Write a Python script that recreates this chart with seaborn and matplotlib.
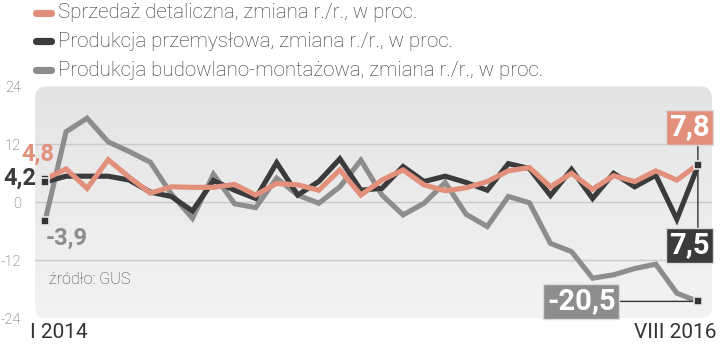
import numpy as np
import pandas as pd
import matplotlib
matplotlib.use("Agg")
import matplotlib.pyplot as plt
from matplotlib.patches import FancyBboxPatch
from matplotlib.lines import Line2D
import seaborn as sns

# ---- data ----
months = list(range(32))  # I 2014 .. VIII 2016
retail = [4.8, 6.9, 2.9, 8.8, 5.2, 1.9, 3.2, 3.1, 3.1, 3.7, 1.5, 3.9, 3.6, 2.5, 6.7, 1.5,
          4.6, 6.7, 3.6, 2.4, 3.0, 4.3, 6.5, 7.2, 3.2, 6.0, 2.7, 5.5, 4.3, 6.5, 4.6, 7.8]
industry = [4.2, 5.4, 5.4, 5.4, 4.6, 2.1, 1.2, -1.8, 4.5, 2.5, 0.8, 8.2, 1.5, 4.3, 9.0, 2.5,
            2.9, 7.4, 4.3, 5.4, 4.1, 2.5, 8.0, 7.0, 1.4, 6.8, 0.8, 6.0, 3.2, 5.6, -3.5, 7.5]
construction = [-3.9, 14.6, 17.4, 12.5, 10.5, 8.3, 1.7, -3.3, 5.8, -0.3, -1.1, 5.0, 1.5, -0.2, 3.2, 8.7,
                1.5, -2.6, -0.2, 4.1, -2.5, -5.0, 1.2, -0.1, -8.5, -10.2, -15.7, -15.0, -13.7, -12.8, -18.8, -20.5]
series_labels = ["Sprzedaż detaliczna, zmiana r./r., w proc.",
                 "Produkcja przemysłowa, zmiana r./r., w proc.",
                 "Produkcja budowlano-montażowa, zmiana r./r., w proc."]
yticks = [-24, -12, 0, 12, 24]
xlabels = ["I 2014", "VIII 2016"]
source = "źródło: GUS"

C_RET = "#e2907b"
C_IND = "#3b3b3b"
C_CON = "#8d8d8d"

sns.set_theme(style="white")
plt.rcParams["font.family"] = ["Roboto", "DejaVu Sans"]

W, H = 720, 344
fig = plt.figure(figsize=(W / 100, H / 100), dpi=100)
fig.patch.set_facecolor("white")

L, R, T, B = 35, 712, 86.3, 318.3
ax = fig.add_axes([L / W, 1 - B / H, (R - L) / W, (B - T) / H])
ax.set_facecolor("none")

# rounded gradient background
ax_w, ax_h = R - L, B - T
bg = FancyBboxPatch((0, 0), 1, 1, boxstyle="round,pad=0,rounding_size=0.018",
                    mutation_aspect=ax_w / ax_h, transform=ax.transAxes,
                    facecolor="none", edgecolor="none", clip_on=False, zorder=0)
ax.add_patch(bg)
grad = np.linspace(0, 1, 256).reshape(-1, 1)
im = ax.imshow(grad, cmap=matplotlib.colors.LinearSegmentedColormap.from_list(
    "g", ["#f3f3f3", "#e4e4e4"]), extent=[0, 1, 1, 0], transform=ax.transAxes,
    aspect="auto", zorder=0, interpolation="bilinear")
im.set_clip_path(bg)

df = pd.DataFrame({
    "month": months * 3,
    "value": construction + industry + retail,
    "series": ["con"] * 32 + ["ind"] * 32 + ["ret"] * 32,
})
sns.lineplot(data=df, x="month", y="value", hue="series", hue_order=["con", "ind", "ret"],
             palette={"con": C_CON, "ind": C_IND, "ret": C_RET}, linewidth=3.7,
             legend=False, ax=ax, zorder=3)
for ln in ax.lines:
    ln.set_solid_joinstyle("miter")
    ln.set_solid_capstyle("butt")

ax.set_xlim(-0.475, 31.67)
ax.set_ylim(-24, 24)
ax.set_autoscale_on(False)

for g in [-12, 0, 12]:
    ax.axhline(g, color="#c9c9c9", lw=1.0, zorder=1)

ax.set_yticks(yticks)
ax.set_yticklabels([str(t) for t in yticks], color="#555555", fontsize=10.5, fontweight="light")
ax.tick_params(axis="y", length=0, pad=10)
ax.set_xticks([])
ax.set_xlabel("")
ax.set_ylabel("")
for s in ax.spines.values():
    s.set_visible(False)

# connector lines (empty-text annotations -> exact vertical / horizontal segments)
conn = dict(arrowstyle="-", color="#333333", lw=1.0, shrinkA=0, shrinkB=0)
ax.annotate("", xy=(months[-1], retail[-1]), xytext=(0, 20), textcoords="offset points",
            arrowprops=conn, zorder=5, annotation_clip=False)
ax.annotate("", xy=(months[-1], industry[-1]), xytext=(0, -48), textcoords="offset points",
            arrowprops=conn, zorder=5, annotation_clip=False)
ax.annotate("", xy=(months[-1], construction[-1]), xytext=(-62, 0), textcoords="offset points",
            arrowprops=conn, zorder=5, annotation_clip=False)

# endpoint markers
for xv, yv in [(months[0], retail[0]), (months[0], industry[0]), (months[0], construction[0]),
               (months[-1], retail[-1]), (months[-1], construction[-1])]:
    ax.scatter([xv], [yv], marker="s", s=26, color="#333333", edgecolors="#e6e6e6",
               linewidths=1.2, zorder=6)

def fmt(v):
    return f"{v:.1f}".replace(".", ",")

# start labels
ax.annotate(fmt(retail[0]), xy=(months[0], retail[0]), xytext=(-5, 18), textcoords="offset points",
            ha="center", va="center", fontsize=17, fontweight="bold", color=C_RET, zorder=7)
ax.annotate(fmt(industry[0]), xy=(months[0], industry[0]), xytext=(-6, 3), textcoords="offset points",
            ha="right", va="center", fontsize=17, fontweight="bold", color=C_IND, zorder=7,
            annotation_clip=False)
ax.annotate(fmt(construction[0]), xy=(months[0], construction[0]), xytext=(16, -12),
            textcoords="offset points", ha="center", va="center", fontsize=17,
            fontweight="bold", color=C_CON, zorder=7)

# end labels (boxes)
def box(fc):
    return dict(boxstyle="square,pad=0.12", fc=fc, ec="#dcdcdc", lw=1.0)

ax.annotate(fmt(retail[-1]), xy=(months[-1], retail[-1]), xytext=(-6, 27), textcoords="offset points",
            ha="center", va="center", fontsize=21, fontweight="bold", color="white", zorder=7,
            bbox=box(C_RET), annotation_clip=False)
ax.annotate(fmt(industry[-1]), xy=(months[-1], industry[-1]), xytext=(-6, -57), textcoords="offset points",
            ha="center", va="center", fontsize=21, fontweight="bold", color="white", zorder=7,
            bbox=box(C_IND), annotation_clip=False)
ax.annotate(fmt(construction[-1]), xy=(months[-1], construction[-1]), xytext=(-84, 0),
            textcoords="offset points", ha="center", va="center", fontsize=21, fontweight="bold",
            color="white", zorder=7, bbox=box(C_CON), annotation_clip=False)

# source
fig.text(49 / W, 1 - 280 / H, source, ha="left", va="center", fontsize=11.5, color="#444444",
         fontweight="light")

# x labels
fig.text(30 / W, 1 - 333 / H, xlabels[0], ha="left", va="center", fontsize=15, color="#333333")
fig.text(717 / W, 1 - 333 / H, xlabels[1], ha="right", va="center", fontsize=15, color="#333333")

# legend
for i, (lab, col) in enumerate(zip(series_labels, [C_RET, C_IND, C_CON])):
    yy = 1 - (12.5 + 28.8 * i) / H
    fig.add_artist(Line2D([36 / W, 51 / W], [yy, yy], lw=5.2, color=col, solid_capstyle="round"))
    fig.text(58 / W, yy, lab, ha="left", va="center", fontsize=14.8, color="#333333",
             fontweight="light")

fig.savefig("out.png", dpi=100, facecolor="white")
